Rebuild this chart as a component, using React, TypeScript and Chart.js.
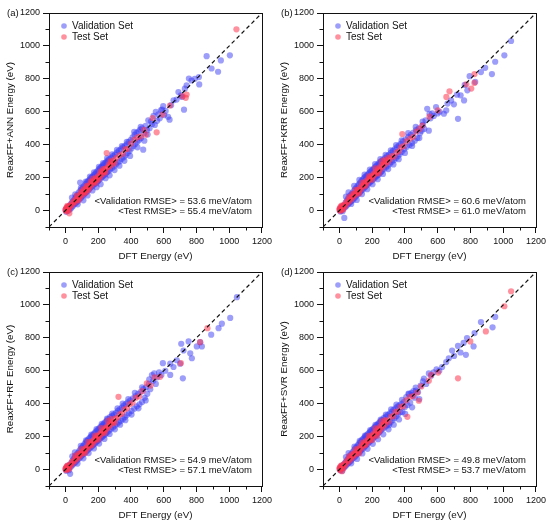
import React, { useEffect, useRef } from 'react';
import { Chart, registerables } from 'chart.js';

Chart.register(...registerables);

const FONT = '"Liberation Sans", Arial, Helvetica, sans-serif';

// axis setup shared by all four panels
const axisMin = -100;
const axisMax = 1200;
const majorTicks = [0, 200, 400, 600, 800, 1000, 1200];
const minorTicks = [-100, 100, 300, 500, 700, 900, 1100];
const diagonal = [-100, 1200];

const legendLabels = ['Validation Set', 'Test Set'];
const panelLetters = ['(a)', '(b)', '(c)', '(d)'];
const modelNames = ['ANN', 'KRR', 'RF', 'SVR'];
const validationRmse = [53.6, 60.6, 54.9, 49.8];
const testRmse = [55.4, 61.0, 57.1, 53.7];

type Pt = [number, number];

// (a) ReaxFF+ANN
const annValidation: Pt[] = [
  [2, 5], [5, -8], [8, 12], [12, 3], [15, 22], [18, -2], [22, 10], [26, 30], [30, 8], [34, 40], [38, 18], [42, 52], [46, 28],
  [50, 60], [54, 38], [58, 72], [62, 44], [66, 84], [70, 52], [74, 96], [78, 60], [82, 110], [86, 70], [90, 170], [92, 122],
  [96, 78], [100, 130], [104, 88], [108, 142], [112, 96], [116, 150], [120, 105], [124, 162], [128, 112], [132, 172],
  [136, 120], [140, 180], [144, 128], [148, 188], [152, 138], [156, 198], [160, 145], [164, 205], [168, 152], [172, 214],
  [176, 160], [180, 222], [184, 165], [188, 232], [192, 172], [196, 240], [200, 180], [204, 250], [208, 188], [212, 258],
  [216, 196], [220, 266], [224, 204], [228, 275], [232, 212], [236, 282], [240, 218], [244, 290], [248, 226], [252, 298],
  [256, 234], [260, 305], [264, 240], [268, 312], [272, 250], [278, 320], [284, 258], [290, 330], [296, 268], [302, 340],
  [308, 280], [314, 352], [320, 292], [326, 362], [332, 300], [338, 372], [344, 314], [350, 384], [356, 324], [362, 392],
  [368, 336], [374, 402], [380, 350], [386, 418], [392, 362], [398, 428], [404, 378], [410, 445], [416, 392], [422, 460],
  [428, 405], [434, 472], [440, 418], [446, 480], [451, 430], [456, 492], [462, 440], [468, 500], [475, 370], [480, 470],
  [490, 515], [498, 488], [506, 548], [514, 500], [522, 540], [530, 526], [538, 575], [546, 520], [552, 600], [560, 545],
  [568, 585], [576, 560], [584, 610], [591, 613], [597, 634], [603, 580], [612, 605], [627, 569], [636, 552], [645, 640],
  [660, 670], [679, 674], [690, 720], [705, 699], [712, 690], [724, 613], [729, 740], [740, 760], [754, 802], [770, 790],
  [790, 800], [815, 811], [817, 766], [862, 938], [892, 863], [932, 843], [949, 912], [1004, 943],
  [40, 78], [60, 98], [75, 38], [95, 138], [110, 62], [125, 176], [135, 92], [150, 206], [165, 122], [175, 232],
  [190, 142], [205, 266], [215, 160], [230, 288], [245, 196], [255, 318], [270, 214], [285, 342], [300, 246], [315, 368],
  [330, 272], [345, 392], [360, 302], [375, 418], [395, 332], [420, 478], [440, 384], [460, 508], [482, 424], [502, 462],
];
const annTest: Pt[] = [
  [0, 2], [3, 12], [5, -3], [8, 20], [10, 6], [12, 28], [14, 0], [16, 14], [18, 24], [20, 8], [24, -17], [26, 22], [30, 32],
  [36, 30], [42, 48], [48, 42], [54, 60], [60, 52], [66, 70], [72, 64], [78, 82], [84, 76], [90, 95], [96, 88], [102, 108],
  [108, 100], [114, 122], [120, 112], [126, 135], [132, 126], [138, 148], [144, 138], [150, 160], [156, 150], [162, 172],
  [168, 162], [174, 182], [180, 175], [186, 195], [192, 186], [198, 208], [204, 198], [210, 220], [216, 210], [222, 232],
  [228, 222], [234, 242], [240, 236], [246, 255], [252, 349], [258, 262], [264, 278], [270, 268], [278, 292], [286, 280],
  [296, 305], [310, 318], [330, 335], [350, 345], [365, 372], [380, 375], [400, 405], [420, 430], [440, 445], [460, 450],
  [480, 490], [491, 461], [532, 562], [557, 475], [593, 583], [638, 638], [715, 695], [735, 685], [740, 705], [1044, 1101],
  [70, 90], [110, 128], [140, 126], [170, 194], [200, 188], [230, 252], [80, 62], [130, 150],
  [95, 112], [125, 110], [155, 178], [185, 170], [215, 238], [245, 232], [275, 300], [300, 290],
];

// (b) ReaxFF+KRR
const krrValidation: Pt[] = [
  [3, 8], [6, -6], [9, 15], [12, 2], [16, 25], [20, -4], [24, 12], [28, 32], [30, -45], [34, 20], [38, 48], [42, 26], [46, 62],
  [50, 36], [54, 74], [58, 44], [62, 88], [66, 50], [70, 96], [74, 58], [78, 104], [81, 98], [84, 66], [88, 120], [92, 76],
  [96, 130], [100, 86], [104, 140], [108, 94], [112, 152], [116, 102], [120, 160], [124, 110], [128, 170], [132, 118],
  [136, 182], [140, 126], [144, 190], [148, 134], [152, 200], [156, 142], [160, 206], [164, 150], [168, 214], [172, 158],
  [176, 222], [180, 166], [184, 230], [188, 172], [192, 238], [196, 180], [200, 246], [204, 188], [208, 254], [212, 194],
  [216, 262], [220, 202], [224, 270], [228, 210], [232, 278], [236, 216], [240, 286], [244, 224], [248, 294], [252, 232],
  [256, 300], [260, 240], [266, 310], [272, 252], [278, 318], [284, 262], [290, 330], [296, 272], [302, 338], [308, 284],
  [314, 350], [320, 296], [326, 362], [332, 306], [338, 372], [344, 318], [350, 384], [356, 330], [362, 395], [368, 342],
  [374, 405], [380, 356], [388, 420], [396, 372], [404, 432], [412, 388], [420, 448], [428, 398], [436, 460], [444, 410],
  [452, 474], [460, 424], [468, 488], [476, 440], [484, 500], [492, 470], [502, 485], [510, 520], [518, 496], [526, 548],
  [536, 618], [546, 485], [550, 588], [556, 560], [566, 590], [576, 575], [590, 629], [600, 590], [612, 600], [638, 588],
  [652, 608], [660, 650], [682, 669], [699, 645], [718, 704], [724, 557], [740, 700], [761, 669], [765, 763], [781, 730],
  [795, 816], [829, 781], [864, 841], [890, 867], [931, 829], [951, 904], [1007, 943], [1048, 1030],
  [40, 84], [56, 110], [72, 40], [90, 150], [106, 64], [122, 186], [138, 100], [154, 218], [170, 130], [186, 248],
  [202, 160], [218, 282], [234, 190], [250, 312], [266, 222], [282, 338], [298, 252], [314, 366], [330, 280], [346, 398],
  [362, 312], [380, 426], [400, 350], [420, 470], [444, 392], [466, 508], [488, 440], [508, 540],
];
const krrTest: Pt[] = [
  [0, 4], [2, 14], [4, -2], [7, 22], [10, 8], [13, 30], [16, 2], [19, 18], [22, 28], [25, 10], [30, 36], [36, 28], [42, 52],
  [48, 44], [54, 64], [60, 56], [66, 76], [72, 68], [78, 88], [84, 80], [90, 100], [96, 94], [102, 114], [108, 106],
  [114, 126], [120, 118], [126, 140], [132, 130], [138, 152], [144, 144], [150, 166], [156, 156], [162, 178], [168, 168],
  [174, 190], [180, 182], [186, 200], [192, 194], [198, 212], [204, 206], [210, 224], [216, 218], [222, 236], [228, 228],
  [234, 248], [240, 240], [246, 262], [252, 252], [258, 276], [264, 266], [270, 288], [278, 280], [286, 300], [296, 294],
  [308, 312], [320, 330], [334, 328], [348, 352], [362, 360], [376, 384], [384, 465], [392, 392], [410, 420], [430, 436],
  [450, 448], [470, 480], [490, 496], [506, 516], [550, 570], [601, 608], [653, 690], [672, 724], [775, 767], [805, 741],
  [824, 775], [825, 829],
  [60, 82], [100, 126], [140, 170], [180, 208], [220, 256], [260, 300], [120, 104], [200, 188],
  [80, 100], [160, 150], [240, 226], [280, 310], [300, 320],
];

// (c) ReaxFF+RF
const rfValidation: Pt[] = [
  [2, 4], [5, -8], [8, 14], [11, 0], [14, 22], [18, 6], [22, -4], [26, 28], [29, -26], [32, 16], [36, 40], [40, 24], [44, 54],
  [48, 32], [52, 66], [56, 40], [60, 80], [64, 48], [68, 90], [72, 56], [76, 100], [80, 64], [84, 112], [88, 72], [92, 124],
  [96, 80], [100, 134], [104, 88], [108, 144], [112, 96], [116, 154], [120, 104], [124, 164], [128, 110], [132, 174],
  [136, 118], [140, 184], [144, 126], [148, 192], [152, 132], [156, 200], [160, 140], [164, 208], [168, 148], [172, 216],
  [176, 154], [180, 224], [184, 162], [188, 232], [192, 170], [196, 240], [200, 176], [204, 248], [208, 184], [212, 256],
  [216, 192], [220, 264], [224, 198], [228, 272], [232, 206], [236, 280], [240, 212], [244, 288], [248, 220], [252, 296],
  [256, 226], [260, 306], [266, 236], [272, 318], [278, 246], [284, 326], [290, 256], [296, 334], [302, 266], [308, 344],
  [314, 276], [320, 356], [326, 286], [332, 366], [338, 296], [344, 376], [350, 306], [356, 388], [362, 318], [368, 398],
  [374, 330], [380, 408], [388, 342], [396, 420], [404, 356], [412, 432], [420, 370], [428, 446], [436, 384], [444, 460],
  [452, 396], [460, 472], [468, 410], [476, 488], [484, 436], [492, 500], [500, 460], [510, 520], [518, 488], [528, 574],
  [536, 540], [542, 584], [552, 520], [560, 560], [572, 590], [586, 575], [595, 646], [610, 600], [640, 575], [640, 643],
  [660, 623], [680, 664], [700, 643], [707, 764], [717, 554], [721, 723], [752, 778], [762, 706], [772, 676], [802, 748],
  [823, 774], [833, 748], [890, 819], [935, 859], [955, 886], [1006, 921], [1047, 1047],
  [42, 80], [58, 104], [74, 36], [94, 144], [110, 68], [126, 178], [142, 100], [158, 212], [174, 128], [190, 246],
  [206, 158], [222, 278], [238, 186], [254, 310], [270, 216], [286, 340], [302, 244], [318, 372], [334, 272], [350, 400],
  [366, 300], [384, 428], [404, 334], [424, 466], [446, 372], [468, 500], [490, 420], [512, 548],
];
const rfTest: Pt[] = [
  [0, 2], [3, 10], [5, -4], [8, 18], [10, 4], [12, 24], [15, 0], [18, 12], [21, 22], [24, 6], [28, 30], [34, 26], [40, 46],
  [46, 40], [52, 58], [58, 52], [64, 70], [70, 64], [76, 82], [82, 76], [88, 94], [94, 88], [100, 106], [106, 100],
  [112, 118], [118, 112], [124, 130], [130, 124], [136, 142], [142, 136], [148, 156], [154, 148], [160, 168], [166, 160],
  [172, 180], [178, 172], [184, 192], [190, 184], [196, 204], [202, 196], [208, 216], [214, 208], [220, 228], [226, 220],
  [232, 240], [238, 232], [244, 252], [250, 244], [256, 264], [262, 256], [268, 276], [276, 270], [284, 290], [294, 288],
  [306, 310], [318, 316], [324, 442], [332, 336], [346, 340], [360, 364], [376, 372], [392, 396], [410, 406], [430, 436],
  [450, 444], [470, 476], [497, 523], [520, 510], [545, 560], [578, 563], [705, 646], [822, 774], [867, 859],
  [60, 84], [100, 124], [140, 168], [180, 206], [220, 252], [260, 296], [120, 100], [200, 182],
  [80, 96], [160, 148], [240, 224], [280, 306], [300, 284],
];

// (d) ReaxFF+SVR
const svrValidation: Pt[] = [
  [3, 6], [6, -5], [9, 14], [12, 2], [15, 22], [18, -8], [22, 10], [26, 30], [30, 14], [34, 40], [38, 22], [42, 50], [46, 30],
  [50, 62], [54, 38], [58, 74], [62, 46], [66, 86], [70, 54], [74, 96], [78, 62], [82, 108], [86, 70], [90, 120], [94, 78],
  [98, 130], [102, 86], [106, 140], [110, 94], [114, 150], [118, 102], [122, 160], [126, 110], [130, 170], [134, 118],
  [138, 180], [142, 126], [146, 188], [150, 134], [154, 196], [158, 142], [162, 204], [166, 150], [170, 212], [174, 158],
  [178, 220], [182, 166], [186, 228], [190, 174], [194, 236], [198, 182], [202, 244], [206, 190], [210, 252], [214, 198],
  [218, 260], [222, 206], [226, 268], [230, 214], [234, 276], [238, 222], [242, 284], [246, 230], [250, 292], [254, 238],
  [258, 300], [264, 248], [270, 312], [276, 256], [282, 320], [288, 266], [294, 330], [300, 276], [303, 269], [306, 340],
  [312, 288], [318, 350], [324, 300], [330, 362], [336, 312], [342, 372], [348, 324], [354, 382], [360, 336], [366, 390],
  [372, 350], [378, 398], [385, 350], [392, 410], [400, 380], [408, 440], [416, 392], [424, 458], [432, 406], [440, 466],
  [445, 452], [452, 476], [460, 436], [468, 480], [480, 470], [496, 510], [516, 553], [530, 520], [546, 584], [560, 570],
  [575, 590], [593, 609], [610, 600], [627, 623], [652, 653], [668, 676], [688, 723], [700, 690], [724, 751], [739, 711],
  [758, 769], [772, 697], [779, 799], [819, 748], [825, 829], [864, 896], [935, 864], [951, 927],
  [40, 76], [56, 100], [72, 38], [92, 140], [108, 64], [124, 174], [140, 98], [156, 206], [172, 126], [188, 240],
  [204, 156], [220, 272], [236, 184], [252, 304], [268, 214], [284, 334], [300, 244], [316, 366], [332, 272], [348, 394],
  [364, 304], [382, 424], [402, 338], [422, 462], [444, 378], [466, 498], [488, 428], [510, 536],
];
const svrTest: Pt[] = [
  [0, 3], [2, 12], [5, -4], [7, 20], [10, 6], [13, 26], [16, -10], [19, 14], [22, 24], [25, 8], [30, 34], [36, 28], [42, 50],
  [48, 42], [54, 62], [60, 54], [66, 74], [72, 66], [78, 86], [84, 78], [90, 98], [96, 90], [102, 110], [108, 102],
  [114, 124], [120, 114], [126, 136], [132, 126], [138, 148], [144, 138], [150, 160], [156, 150], [162, 172], [168, 162],
  [174, 184], [180, 174], [186, 196], [192, 186], [198, 208], [204, 198], [210, 220], [216, 210], [222, 232], [228, 222],
  [234, 244], [240, 234], [246, 258], [252, 246], [258, 270], [264, 258], [270, 282], [278, 272], [288, 296], [300, 290],
  [314, 320], [328, 324], [342, 350], [356, 352], [372, 380], [390, 385], [408, 420], [415, 320], [430, 440], [450, 446],
  [475, 468], [485, 418], [500, 505], [546, 540], [560, 575], [603, 589], [724, 554], [799, 778], [894, 839], [1007, 992],
  [1048, 1083],
  [60, 80], [100, 122], [140, 164], [180, 204], [220, 250], [260, 292], [120, 98], [200, 180],
  [80, 94], [160, 150], [240, 228], [280, 300], [230, 206],
];

const validationSets = [annValidation, krrValidation, rfValidation, svrValidation];
const testSets = [annTest, krrTest, rfTest, svrTest];

const BLUE = 'rgba(60, 60, 245, 0.5)';
const RED = 'rgba(255, 55, 80, 0.55)';
const INK = '#111';

const PANEL_W = 275;
const PANEL_H = 263;

// box, minor ticks, inner legend, RMSE notes and panel letter
const decorPlugin = {
  id: 'decor',
  afterDraw(chart: any, _args: any, opts: any) {
    const { ctx, chartArea } = chart;
    const { left, right, top, bottom } = chartArea;
    const xs = chart.scales.x;
    const ys = chart.scales.y;
    ctx.save();
    ctx.strokeStyle = INK;
    ctx.lineWidth = 1;
    ctx.strokeRect(Math.round(left) + 0.5, Math.round(top) + 0.5, Math.round(right - left), Math.round(bottom - top));

    ctx.beginPath();
    minorTicks.forEach((v) => {
      const px = Math.round(xs.getPixelForValue(v)) + 0.5;
      ctx.moveTo(px, bottom);
      ctx.lineTo(px, bottom + 3.5);
      const py = Math.round(ys.getPixelForValue(v)) + 0.5;
      ctx.moveTo(left, py);
      ctx.lineTo(left - 3.5, py);
    });
    ctx.stroke();

    ctx.font = `9.5px ${FONT}`;
    ctx.textBaseline = 'middle';
    ctx.fillStyle = INK;
    ctx.textAlign = 'left';
    ctx.fillText(opts.letter, 7, top);

    ctx.font = `10px ${FONT}`;
    legendLabels.forEach((label, i) => {
      const y = top + 13 + i * 11;
      ctx.fillStyle = i === 0 ? BLUE : RED;
      ctx.beginPath();
      ctx.arc(left + 15, y, 2.8, 0, Math.PI * 2);
      ctx.fill();
      ctx.fillStyle = INK;
      ctx.fillText(label, left + 23, y);
    });

    ctx.font = `9.5px ${FONT}`;
    ctx.textAlign = 'right';
    ctx.fillText(opts.lines[0], right - 10, bottom - 26);
    ctx.fillText(opts.lines[1], right - 10, bottom - 16);
    ctx.restore();
  },
};

const Panel: React.FC<{ index: number; left: number; top: number }> = ({ index, left, top }) => {
  const canvasRef = useRef<HTMLCanvasElement>(null);

  useEffect(() => {
    const ctx = canvasRef.current?.getContext('2d');
    if (!ctx) return;
    const toXY = (pts: Pt[]) => pts.map(([x, y]) => ({ x, y }));
    const tickFont = { family: FONT, size: 9 };
    const titleFont = { family: FONT, size: 9.8 };
    const setTicks = (s: any) => {
      s.ticks = majorTicks.map((value) => ({ value }));
    };
    const plain = (v: any) => String(v);

    const chart = new Chart(ctx, {
      type: 'scatter',
      data: {
        datasets: [
          {
            label: legendLabels[0],
            data: toXY(validationSets[index]),
            backgroundColor: BLUE,
            pointBorderWidth: 0,
            pointRadius: 3.1,
            order: 2,
          },
          {
            label: legendLabels[1],
            data: toXY(testSets[index]),
            backgroundColor: RED,
            pointBorderWidth: 0,
            pointRadius: 3.1,
            order: 1,
          },
          {
            label: 'y = x',
            data: diagonal.map((v) => ({ x: v, y: v })),
            showLine: true,
            borderColor: INK,
            borderWidth: 1.2,
            borderDash: [4, 3],
            pointRadius: 0,
            order: 0,
          },
        ],
      },
      options: {
        animation: false,
        responsive: true,
        maintainAspectRatio: false,
        events: [],
        layout: { padding: { top: 13, right: 13, left: 0, bottom: 0 } },
        scales: {
          x: {
            type: 'linear',
            min: axisMin,
            max: axisMax,
            afterBuildTicks: setTicks,
            afterFit: (s: any) => {
              s.height = PANEL_H - 13 - 214;
            },
            border: { display: false },
            grid: { drawOnChartArea: false, drawTicks: true, tickLength: 6, tickColor: INK, tickWidth: 1 },
            ticks: { font: tickFont, color: INK, padding: 3, autoSkip: false, maxRotation: 0, callback: plain },
            title: { display: true, text: 'DFT Energy (eV)', font: titleFont, color: INK, padding: { top: 0, bottom: 0.5 } },
          },
          y: {
            type: 'linear',
            min: axisMin,
            max: axisMax,
            afterBuildTicks: setTicks,
            afterFit: (s: any) => {
              s.width = 49;
            },
            border: { display: false },
            grid: { drawOnChartArea: false, drawTicks: true, tickLength: 6, tickColor: INK, tickWidth: 1 },
            ticks: { font: tickFont, color: INK, padding: 3, autoSkip: false, callback: plain },
            title: {
              display: true,
              text: `ReaxFF+${modelNames[index]} Energy (eV)`,
              font: titleFont,
              color: INK,
              padding: { top: 4.5, bottom: 0 },
            },
          },
        },
        plugins: {
          legend: { display: false },
          tooltip: { enabled: false },
          decor: {
            letter: panelLetters[index],
            lines: [
              `<Validation RMSE> = ${validationRmse[index].toFixed(1)} meV/atom`,
              `<Test RMSE> = ${testRmse[index].toFixed(1)} meV/atom`,
            ],
          },
        } as any,
      },
      plugins: [decorPlugin],
    });

    return () => chart.destroy();
  }, [index]);

  return (
    <div style={{ position: 'absolute', left, top, width: PANEL_W, height: PANEL_H }}>
      <canvas ref={canvasRef}></canvas>
    </div>
  );
};

const App: React.FC = () => (
  <div style={{ position: 'absolute', left: 0, top: 0, width: 550, height: 526, background: '#fff' }}>
    <Panel index={0} left={0} top={0} />
    <Panel index={1} left={274} top={0} />
    <Panel index={2} left={0} top={259} />
    <Panel index={3} left={274} top={259} />
  </div>
);

export default App;
